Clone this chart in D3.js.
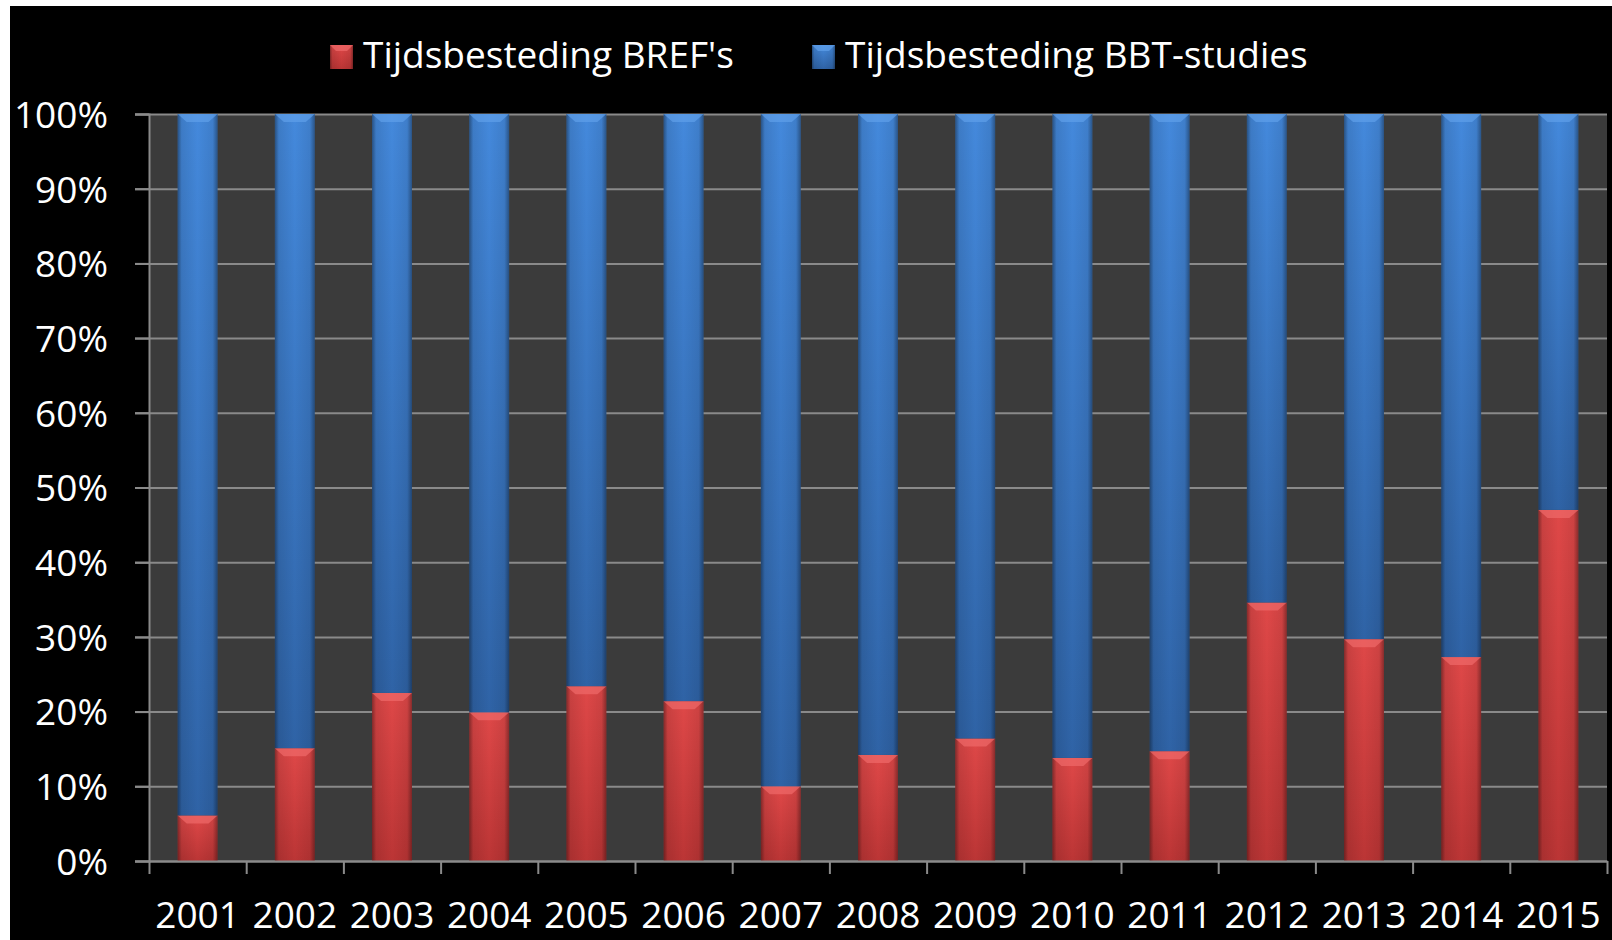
<!DOCTYPE html>
<html>
<head>
<meta charset="utf-8">
<script src="https://cdn.jsdelivr.net/npm/d3@7"></script>
<style>
  html, body { margin: 0; padding: 0; background: #fff; overflow: hidden; }
  svg { display: block; }
</style>
</head>
<body>
<script>
// data
let years = ["2001", "2002", "2003", "2004", "2005", "2006", "2007", "2008",
             "2009", "2010", "2011", "2012", "2013", "2014", "2015"];
let brefShare = [6.1, 15.1, 22.5, 19.9, 23.4, 21.4, 10.0, 14.2, 16.4, 13.8, 14.7, 34.6, 29.7, 27.3, 47.0];
let bbtShare = brefShare.map(d => 100 - d);
let seriesNames = ["Tijdsbesteding BREF's", "Tijdsbesteding BBT-studies"];
let yTicks = [0, 10, 20, 30, 40, 50, 60, 70, 80, 90, 100];

let W = 1612, H = 940;
let plot = { left: 149, right: 1607, top: 114, bottom: 861 };
let fontSize = '37px';

let svg = d3.select('body').append('svg')
    .attr('width', W)
    .attr('height', H)
    .style('font-family', '"Open Sans", sans-serif');

//black frame (white strip on top and left)
svg.append('rect')
    .attr('x', 10).attr('y', 6)
    .attr('width', W - 10).attr('height', H - 6)
    .attr('fill', '#000');

//plot background
svg.append('rect')
    .attr('x', plot.left).attr('y', plot.top)
    .attr('width', plot.right - plot.left).attr('height', plot.bottom - plot.top)
    .attr('fill', '#3b3b3b');

//scales
let x = d3.scaleBand().domain(years).range([plot.left, plot.right]).padding(0);
let y = d3.scaleLinear().domain([0, 100]).range([plot.bottom, plot.top]);
let barW = x.bandwidth() * 0.41;

//gradients
let defs = svg.append('defs');
function vGrad(id, top, bottom) {
    let g = defs.append('linearGradient').attr('id', id)
        .attr('x1', 0).attr('y1', 0).attr('x2', 0).attr('y2', 1);
    g.append('stop').attr('offset', '0%').attr('stop-color', top);
    g.append('stop').attr('offset', '100%').attr('stop-color', bottom);
}
vGrad('blueGrad', '#4489dc', '#2f63a6');
vGrad('redGrad', '#df4848', '#bb3535');
let edge = defs.append('linearGradient').attr('id', 'edgeShade')
    .attr('x1', 0).attr('y1', 0).attr('x2', 1).attr('y2', 0);
[[0, 0.4], [0.1, 0.1], [0.5, 0], [0.88, 0.08], [1, 0.38]].forEach(s => {
    edge.append('stop').attr('offset', s[0]).attr('stop-color', '#000').attr('stop-opacity', s[1]);
});

//gridlines (drawn through an axis placed at the right edge)
let grid = svg.append('g')
    .attr('transform', 'translate(' + plot.right + ',0)')
    .call(d3.axisLeft(y).tickValues(yTicks).tickSize(plot.right - 135).tickFormat(''));
grid.select('.domain').remove();
grid.selectAll('line').attr('stroke', '#8a8a8a').attr('stroke-width', 2);

//stacked bars
let stackData = years.map((yr, i) => ({ year: yr, bref: brefShare[i], bbt: bbtShare[i] }));
let stack = d3.stack().keys(['bref', 'bbt'])(stackData);
let fills = ['url(#redGrad)', 'url(#blueGrad)'];
let bevels = ['#f06a6a', '#5f9fea'];

stack.forEach((layer, li) => {
    let g = svg.append('g');
    let segs = g.selectAll('g.seg')
        .data(layer)
        .enter()
        .append('g');
    segs.append('rect')
        .attr('x', d => x(d.data.year) + (x.bandwidth() - barW) / 2)
        .attr('y', d => y(d[1]))
        .attr('width', barW)
        .attr('height', d => y(d[0]) - y(d[1]))
        .attr('fill', fills[li]);
    segs.append('rect')
        .attr('x', d => x(d.data.year) + (x.bandwidth() - barW) / 2)
        .attr('y', d => y(d[1]))
        .attr('width', barW)
        .attr('height', d => y(d[0]) - y(d[1]))
        .attr('fill', 'url(#edgeShade)');
    //bevel on the top of each segment
    segs.append('polygon')
        .attr('points', d => {
            let x0 = x(d.data.year) + (x.bandwidth() - barW) / 2, x1 = x0 + barW, t = y(d[1]), b = 8;
            return [[x0, t], [x1, t], [x1 - 9, t + b], [x0 + 9, t + b]].join(' ');
        })
        .attr('fill', bevels[li])
        .attr('opacity', 0.7);
});

//y axis
let yAxis = svg.append('g')
    .attr('transform', 'translate(' + plot.left + ',0)')
    .call(d3.axisLeft(y).tickValues(yTicks).tickSize(14).tickPadding(27).tickFormat(d => d + '%'));
yAxis.select('.domain').attr('stroke', '#8a8a8a').attr('stroke-width', 2);
yAxis.selectAll('line').attr('stroke', '#8a8a8a').attr('stroke-width', 2);
yAxis.selectAll('text')
    .attr('fill', '#fff')
    .attr('dy', '0.36em')
    .style('font-size', fontSize)
    .style('font-family', '"Open Sans", sans-serif');

//x axis: boundary ticks
let xb = d3.scaleLinear().domain([0, years.length]).range([plot.left, plot.right]);
let xTicks = svg.append('g')
    .attr('transform', 'translate(0,' + plot.bottom + ')')
    .call(d3.axisBottom(xb).tickValues(d3.range(years.length + 1)).tickSize(13).tickSizeOuter(0).tickFormat(''));
xTicks.select('.domain').attr('stroke', '#8a8a8a').attr('stroke-width', 2);
xTicks.selectAll('line').attr('stroke', '#8a8a8a').attr('stroke-width', 2);

//x axis labels
let xAxis = svg.append('g')
    .attr('transform', 'translate(0,' + plot.bottom + ')')
    .call(d3.axisBottom(x).tickSize(0).tickPadding(41));
xAxis.select('.domain').remove();
xAxis.selectAll('text')
    .attr('fill', '#fff')
    .style('font-size', fontSize)
    .style('font-family', '"Open Sans", sans-serif');

//legend
let legendX = [330, 812];
let legendFill = ['url(#redGrad)', 'url(#blueGrad)'];
seriesNames.forEach((name, i) => {
    let lg = svg.append('g').attr('transform', 'translate(' + legendX[i] + ',45)');
    lg.append('rect').attr('width', 23).attr('height', 24).attr('fill', legendFill[i]);
    lg.append('rect').attr('width', 23).attr('height', 24).attr('fill', 'url(#edgeShade)');
    lg.append('polygon')
        .attr('points', '0,0 23,0 17,6 6,6')
        .attr('fill', bevels[i]).attr('opacity', 0.7);
    lg.append('text')
        .attr('x', 33).attr('y', 23)
        .attr('fill', '#fff')
        .style('font-size', fontSize)
        .text(name);
});
</script>
</body>
</html>
